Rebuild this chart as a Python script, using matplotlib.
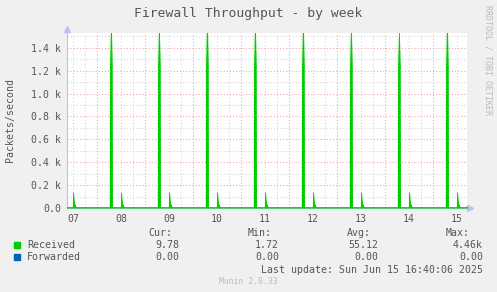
import numpy as np
import matplotlib
matplotlib.use("Agg")
import matplotlib.pyplot as plt

# time axis in days, 0 = the "07" label
day_labels = ["07", "08", "09", "10", "11", "12", "13", "14", "15"]
day_pos = [0, 1, 2, 3, 4, 5, 6, 7, 8]

# received packets/second
recv_base = 12.0
big_spike_days = [0.79, 1.79, 2.79, 3.79, 4.79, 5.79, 6.79, 7.79]
big_spike_peaks = [1750, 1700, 1800, 1750, 1750, 1700, 1650, 1750]
big_spike_shoulder = 1250
small_spike_days = [0.0, 1.0, 2.0, 3.0, 4.0, 5.0, 6.0, 7.0, 8.0]
small_spike_peaks = [140, 135, 140, 140, 140, 140, 140, 140, 140]
forwarded = 0.0

legend_rows = [
    ("Received", "#00CC00", "9.78", "1.72", "55.12", "4.46k"),
    ("Forwarded", "#0066B3", "0.00", "0.00", "0.00", "0.00"),
]

FONT = "DejaVu Sans Mono"
TXT = "#555555"
AXIS_C = "#B8C2F0"

# build the received polyline from the spikes
events = []
for d, p in zip(big_spike_days, big_spike_peaks):
    events.append([(d - 0.032, recv_base), (d - 0.028, big_spike_shoulder),
                   (d, p), (d + 0.028, big_spike_shoulder),
                   (d + 0.032, recv_base)])
for d, p in zip(small_spike_days, small_spike_peaks):
    events.append([(d - 0.012, recv_base), (d - 0.008, p), (d + 0.008, p),
                   (d + 0.03, p * 0.35), (d + 0.06, recv_base)])
events.sort(key=lambda e: e[0][0])
t = [-0.2]
v = [recv_base]
for e in events:
    for a, b in e:
        t.append(a)
        v.append(b)
t.append(8.4)
v.append(recv_base)

fig = plt.figure(figsize=(4.97, 2.92), dpi=100, facecolor="#F0F0F0")
W, H = 497, 292
ax = fig.add_axes([67 / W, (H - 208) / H, 400 / W, 175 / H])
ax.set_facecolor("white")
xmin, xmax = -0.125, 8.208
ax.set_xlim(xmin, xmax)
ax.set_ylim(0, 1530)

# grid
dot = (0, (1, 2))
for x in np.arange(-0.0, 8.3, 0.25):
    if abs((x - 0.5) % 1.0) > 1e-6:
        ax.axvline(x, color="#D2D2D2", lw=0.75, ls=dot, zorder=1)
for x in np.arange(-0.5, 8.3, 1.0):
    ax.axvline(x, color="#F2A0A0", lw=0.75, ls=dot, zorder=1)
for y in range(100, 1600, 200):
    ax.axhline(y, color="#D2D2D2", lw=0.75, ls=dot, zorder=1)
for y in range(0, 1600, 200):
    ax.axhline(y, color="#F2A0A0", lw=0.75, ls=dot, zorder=1)

ax.fill_between(t, 0, v, color="#00CC00", lw=0, zorder=3)
ax.plot([xmin, xmax], [forwarded, forwarded], color="#0066B3", lw=0.8,
        zorder=4)

for s in ["top", "right"]:
    ax.spines[s].set_visible(False)
for s in ["left", "bottom"]:
    ax.spines[s].set_color(AXIS_C)
    ax.spines[s].set_linewidth(0.8)
ax.plot([1.008], [0], marker=">", ms=5, color=AXIS_C, mec=AXIS_C,
        transform=ax.transAxes, clip_on=False)
ax.plot([0], [1.025], marker="^", ms=5, color=AXIS_C, mec=AXIS_C,
        transform=ax.transAxes, clip_on=False)

yt = list(range(0, 1600, 200))
ax.set_yticks(yt)
ax.set_yticklabels(["0.0"] + ["%.1f k" % (y / 1000) for y in yt[1:]])
ax.set_xticks(day_pos)
ax.set_xticklabels(day_labels)
ax.tick_params(length=0, labelsize=7.1, labelcolor=TXT, pad=4)
for lab in ax.get_xticklabels() + ax.get_yticklabels():
    lab.set_family(FONT)

fig.text(248 / W, 1 - 13 / H, "Firewall Throughput - by week", ha="center",
         va="center", family=FONT, fontsize=9.4, color=TXT)
fig.text(10 / W, 1 - 120 / H, "Packets/second", rotation=90, ha="center",
         va="center", family=FONT, fontsize=7.1, color=TXT)
fig.text(488 / W, 1 - 60 / H, "RRDTOOL / TOBI OETIKER", rotation=270,
         ha="center", va="center", family=FONT, fontsize=6.0, color="#BBBBBB")

# legend
hdr_y = 233
for x, s in [(172, "Cur:"), (272, "Min:"), (371, "Avg:"), (470, "Max:")]:
    fig.text(x / W, 1 - hdr_y / H, s, ha="right", va="center", family=FONT,
             fontsize=7.1, color=TXT)
for i, row in enumerate(legend_rows):
    y = 245 + i * 12
    fig.patches.append(plt.Rectangle((14 / W, 1 - (y + 3) / H), 6 / W, 6 / H,
                                     transform=fig.transFigure,
                                     color=row[1]))
    fig.text(27 / W, 1 - y / H, row[0], ha="left", va="center", family=FONT,
             fontsize=7.1, color=TXT)
    for x, s in zip([179, 279, 378, 483], row[2:]):
        fig.text(x / W, 1 - y / H, s, ha="right", va="center", family=FONT,
                 fontsize=7.1, color=TXT)
fig.text(483 / W, 1 - 270 / H, "Last update: Sun Jun 15 16:40:06 2025",
         ha="right", va="center", family=FONT, fontsize=7.1, color=TXT)
fig.text(248 / W, 1 - 281 / H, "Munin 2.0.33", ha="center", va="center",
         family=FONT, fontsize=5.9, color="#BBBBBB")

fig.savefig("out.png", dpi=100, facecolor=fig.get_facecolor())
